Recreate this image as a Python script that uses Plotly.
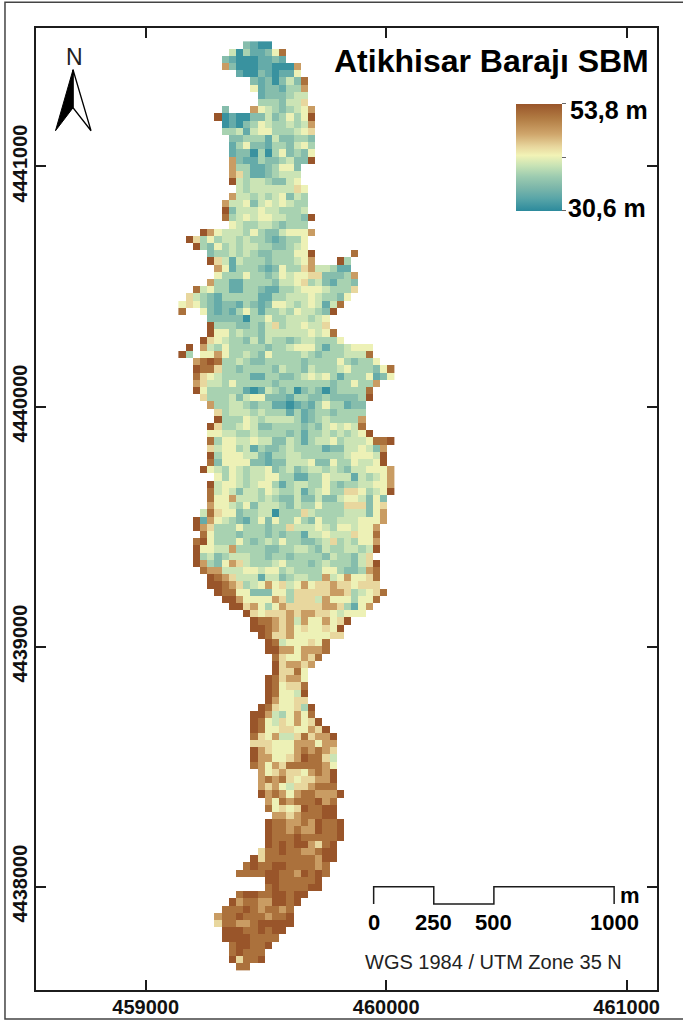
import numpy as np
import plotly.graph_objects as go

# Elevation (m) that each level character of the raster rows stands for
LEVEL_VALUES = [31.4, 34.1, 36.4, 38.7, 40.6, 42.4, 44.5, 48.0, 51.5, 53.8]
Z_MIN, Z_MAX = 30.6, 53.8

# First raster column of every row (north to south)
ROW_START = [9, 7, 6, 6, 8, 10, 10, 11, 11, 6, 5, 6, 6, 7, 7, 7, 7, 7, 7, 7, 8, 7, 6, 6, 6, 7, 3, 1, 2, 4,
             4, 5, 5, 4, 2, 1, 0, 0, 4, 4, 4, 3, 1, 0, 2, 2, 2, 2, 2, 3, 4, 5, 5, 4, 4, 4, 4, 4, 4, 3,
             5, 4, 4, 4, 4, 3, 2, 2, 3, 2, 2, 2, 2, 3, 4, 4, 5, 6, 7, 9, 10, 10, 11, 12, 12, 13, 13, 13, 12, 12,
             12, 12, 11, 10, 10, 10, 10, 10, 10, 10, 10, 11, 11, 11, 11, 12, 12, 13, 12, 12, 12, 12, 11, 10, 9, 8, 12, 12, 8, 7,
             6, 5, 5, 6, 6, 7, 7, 7, 8]

# Raster levels of every row, '.' = no data
ROW_LEVELS = [
    "2100", "40311258", "210001121", "72000110007", "100210115", "21202428", "51221337", "1222344", "3332446",
    "2...754323457", "90100224235359", "0102354334347", "3341455333456", "223331422332", "135221332453",
    "122030352325", "721132234229", "7331123552", "7631123444", "9434432245", "4344444465", "74434345243",
    "744524545433", "924445443334", "8345455443329", "54334432333", "9754443532245557", "96353443433212335",
    "9325343443322345", "233434322333559.....8", "964143332333457...93", "7513332125336744311",
    "53335332354556622237", "733113333244563421332", "84533113321133455543336", "64321333331133444543325",
    "56532122132125543454148", "8..5212135313343544329", "22222033533444345", "93332232463445446",
    "955343324444445458", "96543324243323443335", "9.743533333233455531334555",
    "93.557533432533334323334448", "78983343223333323333532335", "9886332333324332433345333258",
    "8654333311332234545313335125", "76443533333233333332335337", "9533333101432302320233338",
    "633342455222133223222239", "7334432331101213533122", "634443433313123323333", "933354344443123433337",
    "9633454223333232454548", "55443343333231334343459", "83554454422431344534445889",
    "6455341322343333122445427", "9355544213344333333455549", "8255552212244452253354459",
    "954354344523423443432445557", "5354344553311335444143457", "94554345531344335323344557",
    "84542443543341345336653459", "8557444343224224224554252", "7554352444324335333666256",
    "48655233440333643333444257", "917543213525335325334445557", "97633353332336444543554557",
    "8533323332323314454446558", "89533353234353322346343557", "95544733332233443243344349",
    "9342344433233233332433246", "97325764333453332343332469", "8774445545534333355322378",
    "987644414423443374575568", "998763457564575667665666", "988552225536666677634568",
    "9975555763666475553558", "99675357666667763157", "96566676776654555", "98876747557569", "9987675655659",
    "986675555566", "984555658", "997757778", "8655768", "967767", "96685", "986775", "985668", "985549",
    "975566", "98655639", "997435758", "9854657569", "98556655769", "865744686779", "666555777577",
    "976555787876", "977556798864", "875768888875", "75676657879", "78786566779", "76754667888",
    "978757887779", "7587888978", "8565698899", "776788899", "98877879889", "98878779889", "98889888889",
    "9898997689", "68898877899", "968888888799", "898899888878", "8888998879898", "99888889", "89888899",
    "8998899899", "9788779989", "8889878878", "78898887889", "68877899999", "999889899", "99998888",
    "899889", "89888", "96889", "88",
]

# UTM grid of the raster (m)
CELL_M = 30
X_ORIGIN = 459151
Y_ORIGIN = 4441506
N_COLS = 30

X_TICKS = [459000, 460000, 461000]
Y_TICKS = [4438000, 4439000, 4440000, 4441000]
X_RANGE = [458543.8, 461126.3]
Y_RANGE = [4437569.6, 4441576.7]

TITLE = "Atikhisar Baraj\u0131 SBM"
BAR_TICKS = [30.6, 42.12, 53.8]
BAR_LABEL_TOP = "53,8 m"
BAR_LABEL_BOTTOM = "30,6 m"
CRS_TEXT = "WGS 1984 / UTM Zone 35 N"

# Scale bar (m along the ground)
SCALE_STOPS = [0, 250, 500, 1000]
SCALE_X0 = 459948
SCALE_TOP = 4438000
SCALE_BOTTOM = 4437928

COLORSCALE = [
    [0.00, "#2C8A9C"], [0.12, "#5AA6A8"], [0.22, "#7DB7AA"], [0.32, "#9CCBB0"], [0.42, "#C6E2B5"],
    [0.52, "#F2F3B6"], [0.60, "#E8D79E"], [0.72, "#CFA56B"], [0.87, "#B07A42"], [1.00, "#99552A"],
]

W, H = 683, 1023
L, R, T, B = 36.0, 656.7, 28.3, 990.0
FONT = "Liberation Sans"
INK = "#1c1c1c"


def px(x):
    return (x - L) / (R - L)


def py(y):
    return (B - y) / (B - T)


z = np.full((len(ROW_LEVELS), N_COLS), np.nan)
for r, (start, row) in enumerate(zip(ROW_START, ROW_LEVELS)):
    for i, ch in enumerate(row):
        if ch != "." and start + i < N_COLS:
            z[r, start + i] = LEVEL_VALUES[int(ch)]

xs = X_ORIGIN + CELL_M * np.arange(N_COLS)
ys = Y_ORIGIN - CELL_M * np.arange(len(ROW_LEVELS))

fig = go.Figure(
    go.Heatmap(
        x=xs, y=ys, z=z, zmin=Z_MIN, zmax=Z_MAX, colorscale=COLORSCALE, zsmooth=False, hoverongaps=False,
        colorbar=dict(
            x=px(516), xanchor="left", y=py(104), yanchor="top",
            lenmode="pixels", len=107, thicknessmode="pixels", thickness=46,
            outlinewidth=0, xpad=0, ypad=0, tickvals=BAR_TICKS, ticktext=["", "", ""],
            ticks="outside", ticklen=4, tickcolor="#666666", tickwidth=1,
        ),
    )
)


def note(text, x, y, size, bold=False, xanchor="center"):
    fig.add_annotation(
        xref="paper", yref="paper", x=px(x), y=py(y), text=f"<b>{text}</b>" if bold else text,
        showarrow=False, xanchor=xanchor, yanchor="middle",
        font=dict(family=FONT, size=size, color="#000000" if bold else "#222222"),
    )


note(TITLE, 651, 61, 32, bold=True, xanchor="right")
note(BAR_LABEL_TOP, 568, 110, 25, bold=True, xanchor="left")
note(BAR_LABEL_BOTTOM, 566, 208, 25, bold=True, xanchor="left")
note(CRS_TEXT, 493, 962, 20)
note("N", 74, 57, 23)
note("m", 630, 896, 22, bold=True)
for stop in SCALE_STOPS:
    xpix = 386 + 0.24035 * (SCALE_X0 + stop - 460000)
    note(str(stop), xpix, 923, 22, bold=True)

# Scale bar drawn in map units
sx = [SCALE_X0 + s for s in SCALE_STOPS]
scale_path = (
    f"M{sx[0]},{SCALE_BOTTOM} L{sx[0]},{SCALE_TOP} L{sx[1]},{SCALE_TOP} L{sx[1]},{SCALE_BOTTOM} "
    f"L{sx[2]},{SCALE_BOTTOM} L{sx[2]},{SCALE_TOP} L{sx[3]},{SCALE_TOP} L{sx[3]},{SCALE_BOTTOM}"
)
fig.add_shape(type="path", xref="x", yref="y", path=scale_path, line=dict(color=INK, width=1.5))


def paper_path(points, close=True):
    d = " ".join(("M" if i == 0 else "L") + f"{px(a):.5f},{py(b):.5f}" for i, (a, b) in enumerate(points))
    return d + (" Z" if close else "")


ARROW_LEFT = [(73, 70), (55.5, 131), (73, 108)]
ARROW_RIGHT = [(73, 70), (91, 131), (73, 108)]
fig.add_shape(type="path", xref="paper", yref="paper", path=paper_path(ARROW_RIGHT),
              line=dict(color="#000000", width=1.3), fillcolor="#ffffff")
fig.add_shape(type="path", xref="paper", yref="paper", path=paper_path(ARROW_LEFT),
              line=dict(color="#000000", width=1), fillcolor="#000000")

# Outer page frame
OUTER = [(683, 2.5), (5, 2.5), (5, 1019), (683, 1019)]
fig.add_shape(type="path", xref="paper", yref="paper", path=paper_path(OUTER, close=False),
              line=dict(color="#444444", width=1.5))

axis_common = dict(
    automargin=False, showgrid=False, zeroline=False, showline=True, linecolor=INK, linewidth=1.5, mirror="ticks",
    ticks="inside", ticklen=10, tickwidth=1.5, tickcolor=INK,
    tickfont=dict(family=FONT, size=20, color="#111111", weight="bold"),
)
fig.update_xaxes(range=X_RANGE, tickvals=X_TICKS, ticktext=[str(v) for v in X_TICKS], ticklabelstandoff=-2, **axis_common)
fig.update_yaxes(range=Y_RANGE, tickvals=Y_TICKS, ticktext=[str(v) for v in Y_TICKS], tickangle=-90, ticklabelstandoff=-1, **axis_common)

fig.update_layout(
    width=W, height=H, autosize=False, paper_bgcolor="#ffffff", plot_bgcolor="#ffffff", showlegend=False,
    margin=dict(l=L, r=W - R, t=T, b=H - B, pad=0, autoexpand=False),
    font=dict(family=FONT),
)

fig.write_html(
    "out.html",
    config={"displayModeBar": False},
    post_script="document.body.style.margin='0';document.documentElement.style.overflow='hidden';",
)
